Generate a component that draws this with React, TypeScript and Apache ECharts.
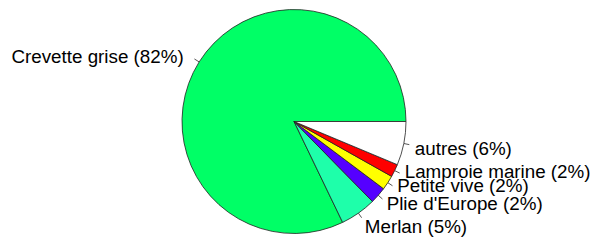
import React, { useEffect, useRef } from "react";
import * as echarts from "echarts";

// Species (counter-clockwise from 3 o'clock, as in R's pie())
const categories = ["Crevette grise", "Merlan", "Plie d'Europe", "Petite vive", "Lamproie marine", "autres"];
// Shares (%)
const shares = [82.15, 5.2, 2.4, 2.1, 1.85, 6.3];
// Percentages printed in the labels
const labelPct = [82, 5, 2, 2, 2, 6];

// Styling
const colors = ["#00FF66", "#1EFFAA", "#5500FF", "#FFFF00", "#FF0000", "#FFFFFF"];
const labelNudgeY = [1, 4, 1.3, -3.1, -3.8, 2.4]; // vertical spreading of the labels (px)
const CX = 294;
const CY = 121.5;
const R = 112;
const FONT = "'Liberation Sans', Arial, Helvetica, sans-serif";

export default function App() {
  const ref = useRef<HTMLDivElement>(null);
  useEffect(() => {
    if (!ref.current) return;
    const chart = echarts.init(ref.current, null, { renderer: "svg" });
    const base = {
      type: "pie" as const,
      center: [CX, CY],
      radius: R,
      startAngle: 0,
      clockwise: false,
      avoidLabelOverlap: false,
      silent: true,
      emphasis: { disabled: true },
    };
    chart.setOption({
      animation: false,
      backgroundColor: "#ffffff",
      series: [
        {
          ...base,
          itemStyle: { borderColor: "#222", borderWidth: 0.8 },
          label: { show: true, position: "outside", formatter: () => "", distanceToLabelLine: 0 },
          labelLine: { show: true, length: R * 0.05, length2: 0, lineStyle: { color: "#555", width: 1 } },
          labelLayout: { hideOverlap: false },
          data: categories.map((c, i) => ({ name: c, value: shares[i], itemStyle: { color: colors[i] } })),
        },
        {
          ...base,
          itemStyle: { color: "rgba(0,0,0,0)", borderWidth: 0 },
          label: {
            show: true,
            position: "outside",
            distanceToLabelLine: 0,
            fontFamily: FONT,
            fontSize: 18.8,
            color: "#000",
          },
          labelLine: { show: false, length: R * 0.1, length2: 0 },
          labelLayout: (p: any) => ({
            hideOverlap: false,
            y: p.labelRect.y + p.labelRect.height / 2 + labelNudgeY[p.dataIndex],
            verticalAlign: "middle",
          }),
          data: categories.map((c, i) => ({
            name: c,
            value: shares[i],
            label: {
              formatter: `${c} (${labelPct[i]}%)`,
              distanceToLabelLine: i === 0 ? 6 : 0,
            },
          })),
        },
      ],
    });
    return () => chart.dispose();
  }, []);
  return (
    <div
      ref={ref}
      style={{ position: "fixed", left: 0, top: 0, width: 591, height: 241, background: "#fff" }}
    />
  );
}
